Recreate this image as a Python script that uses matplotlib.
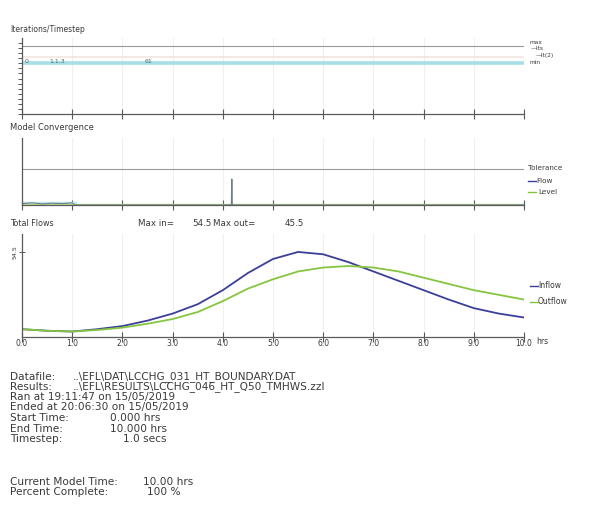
import matplotlib
matplotlib.use("Agg")
import matplotlib.pyplot as plt
from matplotlib.lines import Line2D

W, H = 592, 512
plt.rcParams['font.family'] = ['DejaVu Sans']

# ---------------- data ----------------
hours = [0.0, 0.5, 1.0, 1.5, 2.0, 2.5, 3.0, 3.5, 4.0, 4.5, 5.0, 5.5, 6.0,
         6.5, 7.0, 7.5, 8.0, 8.5, 9.0, 9.5, 10.0]
inflow = [5.0, 4.0, 3.5, 5.0, 7.0, 10.5, 15.0, 21.0, 30.0, 41.0, 50.0, 54.5,
          53.0, 48.0, 42.0, 36.0, 30.0, 24.0, 18.5, 15.0, 12.5]
outflow = [5.0, 4.0, 3.5, 4.5, 6.0, 8.5, 11.5, 16.0, 23.0, 31.0, 37.0, 42.0,
           44.5, 45.5, 44.5, 42.0, 38.0, 34.0, 30.0, 27.0, 24.0]
max_in = 54.5
max_out = 45.5

# iterations / timestep panel
its_times = [0.0, 10.0]
its_values = [10.0, 10.0]
its2_values = [11.3, 11.3]
its_max = 13.5
its_notes = [(0.05, "0"), (0.55, "1.1.3"), (2.45, "61")]

# model convergence panel
conv_times = [0.0, 0.2, 0.4, 0.6, 0.8, 1.0, 1.05, 4.17, 4.18, 4.19, 10.0]
conv_flow = [0.0004, 0.0006, 0.0003, 0.0005, 0.0004, 0.0006, 0.0, 0.0, 0.0072, 0.0, 0.0]
conv_level = [0.0002, 0.0002, 0.0002, 0.0002, 0.0002, 0.0002, 0.0002, 0.0002,
              0.0002, 0.0002, 0.0002]
tolerance = 0.01

x_ticks = [0, 1, 2, 3, 4, 5, 6, 7, 8, 9, 10]
x_tick_labels = ["0.0", "1.0", "2.0", "3.0", "4.0", "5.0", "6.0", "7.0",
                 "8.0", "9.0", "10.0"]

info_labels = ["Datafile:", "Results:", "Ran at 19:11:47 on 15/05/2019",
               "Ended at 20:06:30 on 15/05/2019", "Start Time:", "End Time:",
               "Timestep:", "Current Model Time:", "Percent Complete:"]
info_values = ["..\\EFL\\DAT\\LCCHG_031_HT_BOUNDARY.DAT",
               "..\\EFL\\RESULTS\\LCCHG_046_HT_Q50_TMHWS.zzl",
               "", "", "0.000 hrs", "10.000 hrs", "1.0 secs", "10.00 hrs", "100 %"]
info_y = [377, 387, 397, 407, 418, 429, 439, 482, 492]
info_vx = [73, 73, 0, 0, 110, 110, 123, 143, 147]

# ---------------- styling ----------------
AX_C = "#5a5a5a"
TXT_C = "#3a3a3a"
IN_C = "#3b3f97"
OUT_C = "#86c540"
GRID_C = "#f0f0f0"


def rect(l, t, r, b):
    return [l / W, 1 - b / H, (r - l) / W, (b - t) / H]


def fx(px):
    return px / W


def fy(py):
    return 1 - py / H


fig = plt.figure(figsize=(W / 100, H / 100), dpi=100)
fig.patch.set_facecolor("white")


def style(ax, labels=False):
    for s in ("top", "right"):
        ax.spines[s].set_visible(False)
    for s in ("left", "bottom"):
        ax.spines[s].set_color(AX_C)
        ax.spines[s].set_linewidth(0.9)
    ax.set_xlim(0, 10)
    ax.set_xticks(x_ticks)
    ax.tick_params(axis="x", direction="inout", length=7, width=0.8,
                   color=AX_C, labelsize=5.5, labelcolor=TXT_C, pad=-2)
    if not labels:
        ax.set_xticklabels([])
    else:
        ax.set_xticklabels(x_tick_labels)
    ax.grid(axis="x", color=GRID_C, linewidth=0.8)
    ax.set_axisbelow(True)


# ---- panel 1: iterations / timestep ----
ax1 = fig.add_axes(rect(22, 38, 524, 114))
style(ax1)
ax1.set_ylim(0, 15)
ax1.set_yticks(list(range(0, 15)))
ax1.set_yticklabels([])
ax1.tick_params(axis="y", direction="out", length=3, width=0.7, color=AX_C)
ax1.axhline(its_max, color="#9a9a9a", lw=0.8)
ax1.plot(its_times, its2_values, color="#f4e4e0", lw=1.2)
ax1.plot(its_times, its_values, color="#a6dfe6", lw=2.6, solid_capstyle="butt")
for t, s in its_notes:
    ax1.text(t, its_values[0] + 0.3, s, fontsize=4.5, color="#4a6a70",
             ha="left", va="center")
fig.text(fx(10), fy(29), "Iterations/Timestep", fontsize=5.5, color=TXT_C, va="center")
fig.text(fx(529), fy(43), "max", fontsize=4.2, color=TXT_C, va="center")
fig.text(fx(531), fy(49), "\u2014Its", fontsize=4.2, color=TXT_C, va="center")
fig.text(fx(536), fy(55), "\u2014It(2)", fontsize=4.2, color=TXT_C, va="center")
fig.text(fx(529), fy(62), "min", fontsize=4.2, color=TXT_C, va="center")

# ---- panel 2: model convergence ----
ax2 = fig.add_axes(rect(22, 138, 524, 205))
style(ax2)
ax2.set_ylim(0, 0.0186)
ax2.set_yticks([])
ax2.axhline(tolerance, color="#9a9a9a", lw=0.8)
ax2.plot(conv_times[:7], [0.0006] * 7, color="#bfe9ee", lw=2.5)
ax2.plot(conv_times, conv_level, color="#b9e08c", lw=1.0)
ax2.plot(conv_times, conv_flow, color="#6f7f8a", lw=0.8)
fig.text(fx(10), fy(127), "Model Convergence", fontsize=6.0, color=TXT_C, va="center")
fig.text(fx(528), fy(168), "Tolerance", fontsize=5.2, color=TXT_C, va="center")
fig.add_artist(Line2D([fx(528), fx(536)], [fy(181), fy(181)], color=IN_C, lw=1.0))
fig.text(fx(536), fy(181), "Flow", fontsize=5.2, color=TXT_C, va="center")
fig.add_artist(Line2D([fx(528), fx(536)], [fy(192), fy(192)], color=OUT_C, lw=1.0))
fig.text(fx(538), fy(192), "Level", fontsize=5.2, color=TXT_C, va="center")

# ---- panel 3: total flows ----
ax3 = fig.add_axes(rect(22, 234, 524, 337))
style(ax3, labels=True)
ax3.set_ylim(0, 66)
ax3.set_yticks([max_in])
ax3.set_yticklabels([f"{max_in:.1f}"], rotation=90, va="center")
ax3.tick_params(axis="y", direction="inout", length=4, width=0.7, color=AX_C,
                labelsize=4.5, labelcolor=TXT_C, pad=1)
ax3.plot(hours, inflow, color=IN_C, lw=1.3)
ax3.plot(hours, outflow, color=OUT_C, lw=1.3)
fig.text(fx(10), fy(224), "Total Flows", fontsize=5.8, color=TXT_C, va="center")
fig.text(fx(138), fy(224), "Max in=", fontsize=6.3, color=TXT_C, va="center")
fig.text(fx(192), fy(224), f"{max_in:.1f}", fontsize=6.3, color=TXT_C, va="center")
fig.text(fx(213), fy(224), "Max out=", fontsize=6.3, color=TXT_C, va="center")
fig.text(fx(285), fy(224), f"{max_out:.1f}", fontsize=6.3, color=TXT_C, va="center")
fig.text(fx(536), fy(342), "hrs", fontsize=5.5, color=TXT_C, va="center")
fig.add_artist(Line2D([fx(530), fx(538)], [fy(286), fy(286)], color=IN_C, lw=1.0))
fig.text(fx(538), fy(286), "Inflow", fontsize=5.5, color=TXT_C, va="center")
fig.add_artist(Line2D([fx(530), fx(538)], [fy(302), fy(302)], color=OUT_C, lw=1.0))
fig.text(fx(538), fy(302), "Outflow", fontsize=5.5, color=TXT_C, va="center")

# ---- info block ----
for lab, val, y, vx in zip(info_labels, info_values, info_y, info_vx):
    fig.text(fx(10), fy(y), lab, fontsize=7.6, color=TXT_C, va="center")
    if val:
        fig.text(fx(vx), fy(y), val, fontsize=7.6, color=TXT_C, va="center")

fig.savefig("out.png", dpi=100, facecolor="white")
